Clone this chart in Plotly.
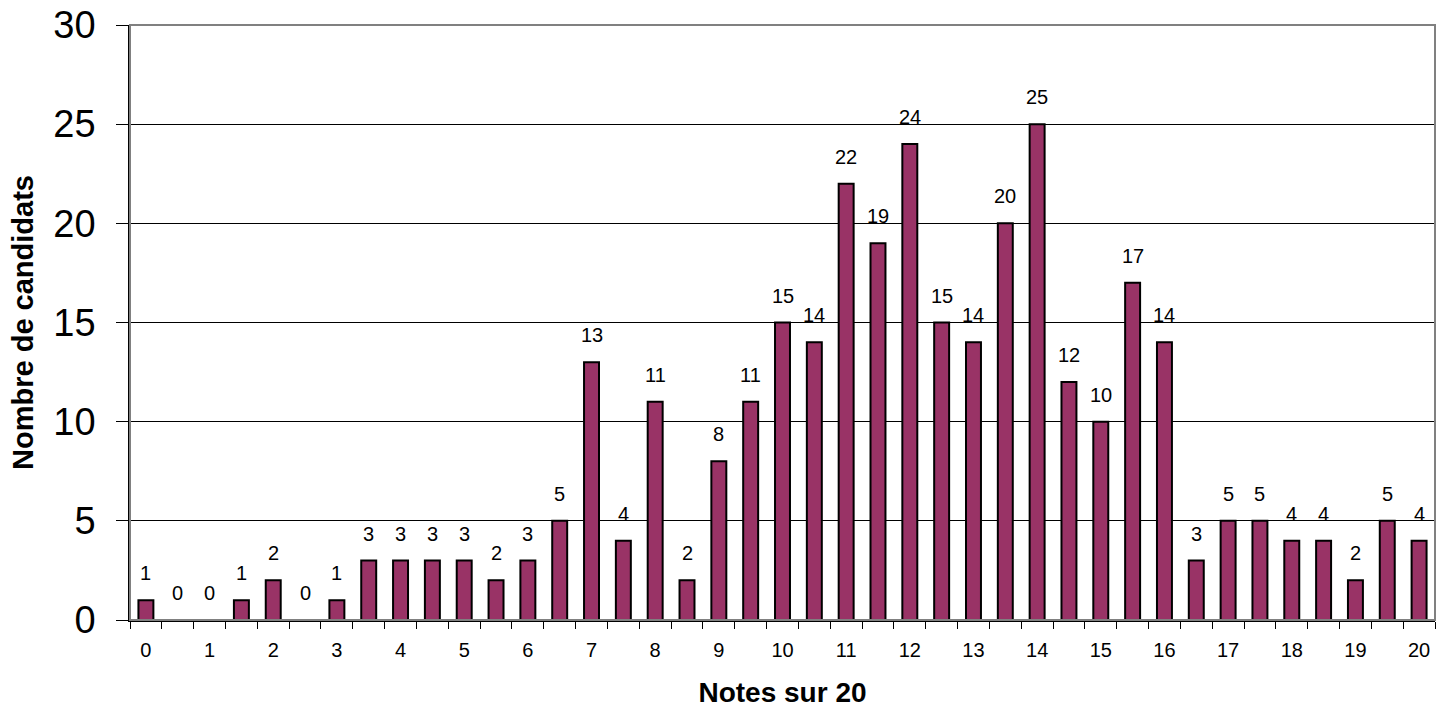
import plotly.graph_objects as go

# Data
grades = [0, 0.5, 1, 1.5, 2, 2.5, 3, 3.5, 4, 4.5, 5, 5.5, 6, 6.5, 7, 7.5, 8, 8.5, 9, 9.5,
          10, 10.5, 11, 11.5, 12, 12.5, 13, 13.5, 14, 14.5, 15, 15.5, 16, 16.5, 17, 17.5,
          18, 18.5, 19, 19.5, 20]
counts = [1, 0, 0, 1, 2, 0, 1, 3, 3, 3, 3, 2, 3, 5, 13, 4, 11, 2, 8, 11,
          15, 14, 22, 19, 24, 15, 14, 20, 25, 12, 10, 17, 14, 3, 5, 5,
          4, 4, 2, 5, 4]
xtick_vals = list(range(0, 21))
xtick_text = [str(v) for v in xtick_vals]
ytick_vals = [0, 5, 10, 15, 20, 25, 30]

FONT = "Liberation Sans, Arial, sans-serif"

fig = go.Figure()
fig.add_trace(go.Bar(
    x=grades, y=counts, width=0.235,
    marker=dict(color="#993366", line=dict(color="black", width=2)),
    hoverinfo="x+y",
))

annotations = [
    dict(x=g, y=c, text=str(c), showarrow=False, xref="x", yref="y",
         yanchor="bottom", yshift=14, font=dict(family=FONT, size=20, color="black"))
    for g, c in zip(grades, counts)
]

fig.update_layout(
    width=1436, height=708,
    margin=dict(l=130, r=1, t=25, b=88, autoexpand=False),
    paper_bgcolor="white", plot_bgcolor="white",
    showlegend=False,
    font=dict(family=FONT, color="black"),
    annotations=annotations,
    shapes=[dict(type="rect", xref="paper", yref="paper", x0=0, x1=1, y0=0, y1=1,
                 line=dict(color="#808080", width=2), layer="above")],
)

fig.update_xaxes(
    automargin=False,
    range=[-0.25, 20.25],
    tickmode="array", tickvals=xtick_vals, ticktext=xtick_text,
    ticks="", showgrid=False, zeroline=False,
    showline=True, linecolor="black", linewidth=1.5,
    tickfont=dict(family=FONT, size=20, color="black"),
    ticklabelstandoff=11,
    minor=dict(ticks="outside", ticklen=7, tickcolor="black", tickwidth=1,
               tick0=-0.25, dtick=0.5, showgrid=False),
    title=dict(text="<b>Notes sur 20</b>", font=dict(family=FONT, size=28, color="black"),
               standoff=30),
)

fig.update_yaxes(
    automargin=False,
    range=[0, 30], tickmode="array", tickvals=ytick_vals,
    ticks="outside", ticklen=12, tickcolor="black", tickwidth=1,
    showgrid=True, gridcolor="black", gridwidth=1, zeroline=False,
    showline=True, linecolor="black", linewidth=1.5,
    tickfont=dict(family=FONT, size=38, color="black"),
    ticklabelstandoff=13,
    title=dict(text="<b>Nombre de candidats</b>", font=dict(family=FONT, size=29, color="black"),
               standoff=11),
)

fig.write_html("out.html", config={"displayModeBar": False},
               post_script="document.body.style.margin='0';document.body.style.overflow='hidden';")
